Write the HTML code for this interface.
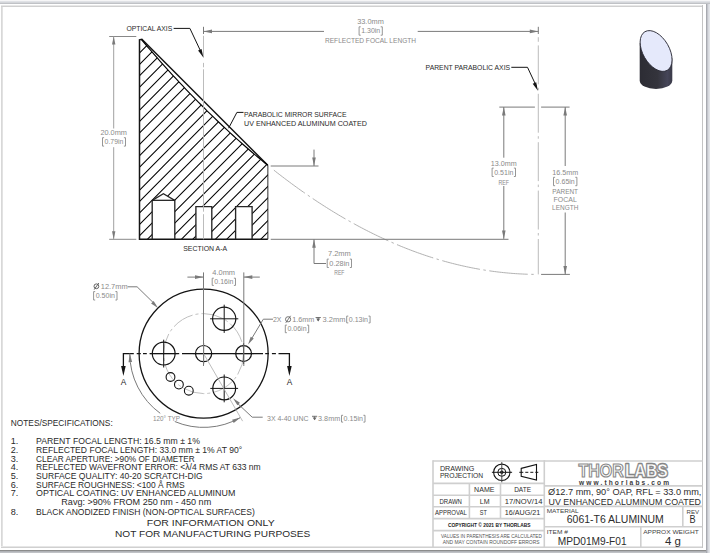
<!DOCTYPE html>
<html><head><meta charset="utf-8"><style>
html,body{margin:0;padding:0;background:#fff;}
svg{display:block;}
text{font-family:"Liberation Sans",sans-serif;}
</style></head><body>
<svg width="710" height="553" viewBox="0 0 710 553">
<rect x="0" y="0" width="710" height="553" fill="#ffffff"/>
<rect x="0" y="0" width="710" height="1" fill="#f6f6f7"/>
<rect x="0" y="1" width="710" height="1" fill="#e0e2e6"/>
<rect x="0" y="2" width="710" height="1" fill="#d4d6da"/>
<rect x="0" y="3" width="710" height="1" fill="#c0c2c6"/>
<rect x="706" y="4" width="1" height="549" fill="#a8aab0"/>
<rect x="707" y="4" width="1" height="549" fill="#c4c6cc"/>
<rect x="708" y="4" width="1" height="549" fill="#d8dadf"/>
<rect x="709" y="4" width="1" height="549" fill="#e2e4e8"/>
<rect x="0" y="550" width="706" height="1" fill="#8c8c8c"/>
<rect x="0" y="551" width="706" height="1" fill="#b0b2b6"/>
<rect x="0" y="552" width="706" height="1" fill="#c0c2c6"/>
<rect x="1" y="5" width="1" height="543" fill="#d8d8d8"/>
<rect x="2" y="5" width="1" height="543" fill="#e2e2e2"/>
<rect x="1" y="5" width="702" height="1" fill="#e8e8e8"/>
<rect x="1" y="6" width="702" height="1" fill="#d0d0d0"/>
<rect x="1" y="546" width="702" height="1" fill="#e6e6e6"/>
<rect x="1" y="547" width="702" height="1" fill="#d0d0d0"/>
<rect x="702" y="5" width="1" height="543" fill="#c4c4c4"/>
<clipPath id="hc"><path d="M139.5,39.8 L141.5,39.64 L144.66,43.37 L147.81,47.06 L150.97,50.72 L154.13,54.35 L157.29,57.95 L160.44,61.53 L163.6,65.07 L166.76,68.58 L169.92,72.07 L173.07,75.52 L176.23,78.94 L179.39,82.34 L182.55,85.7 L185.71,89.04 L188.86,92.34 L192.02,95.62 L195.18,98.86 L198.34,102.08 L201.49,105.26 L204.65,108.42 L207.81,111.55 L210.97,114.64 L214.12,117.71 L217.28,120.75 L220.44,123.76 L223.59,126.73 L226.75,129.68 L229.91,132.6 L233.07,135.49 L236.23,138.35 L239.38,141.18 L242.54,143.98 L245.7,146.75 L248.86,149.49 L252.01,152.2 L255.17,154.88 L258.33,157.53 L261.49,160.15 L264.64,162.74 L267.8,165.3 L267.8,239.3 L139.5,239.3 Z M152.2,239.3 L152.2,200.3 L163.4,193.7 L174.8,200.3 L174.8,239.3 Z M195.9,239.3 L195.9,206.6 L211.8,206.6 L211.8,239.3 Z M235.6,239.3 L235.6,206.6 L252.1,206.6 L252.1,239.3 Z" clip-rule="evenodd"/></clipPath>
<line x1="267.8" y1="165.3" x2="267.8" y2="239.3" stroke="#6a6a6a" stroke-width="1.4" />
<path d="M120,72.66 L290,-98.87 M120,84.09 L290,-87.44 M120,95.52 L290,-76.01 M120,106.95 L290,-64.58 M120,118.38 L290,-53.15 M120,129.81 L290,-41.72 M120,141.24 L290,-30.29 M120,152.67 L290,-18.86 M120,164.1 L290,-7.43 M120,175.53 L290,4 M120,186.96 L290,15.43 M120,198.39 L290,26.86 M120,209.82 L290,38.29 M120,221.25 L290,49.72 M120,232.68 L290,61.15 M120,244.11 L290,72.58 M120,255.54 L290,84.01 M120,266.97 L290,95.44 M120,278.4 L290,106.87 M120,289.83 L290,118.3 M120,301.26 L290,129.73 M120,312.69 L290,141.16 M120,324.12 L290,152.59 M120,335.55 L290,164.02 M120,346.98 L290,175.45 M120,358.41 L290,186.88 M120,369.84 L290,198.31 M120,381.27 L290,209.74 M120,392.7 L290,221.17" stroke="#000" stroke-width="1.05" fill="none" clip-path="url(#hc)"/>
<polyline points="267.8,165.3 141.9,39.3 139.5,39.8 139.5,239.3 267.8,239.3" stroke="#141414" stroke-width="1.5" fill="none" />
<polyline points="141.5,39.64 144.66,43.37 147.81,47.06 150.97,50.72 154.13,54.35 157.29,57.95 160.44,61.53 163.6,65.07 166.76,68.58 169.92,72.07 173.07,75.52 176.23,78.94 179.39,82.34 182.55,85.7 185.71,89.04 188.86,92.34 192.02,95.62 195.18,98.86 198.34,102.08 201.49,105.26 204.65,108.42 207.81,111.55 210.97,114.64 214.12,117.71 217.28,120.75 220.44,123.76 223.59,126.73 226.75,129.68 229.91,132.6 233.07,135.49 236.23,138.35 239.38,141.18 242.54,143.98 245.7,146.75 248.86,149.49 252.01,152.2 255.17,154.88 258.33,157.53 261.49,160.15 264.64,162.74 267.8,165.3" stroke="#000" stroke-width="1.15" fill="none" />
<polyline points="152.2,239.3 152.2,200.3 163.4,193.7 174.8,200.3 174.8,239.3" stroke="#262626" stroke-width="1.35" fill="none" />
<polyline points="195.9,239.3 195.9,206.6 211.8,206.6 211.8,239.3" stroke="#262626" stroke-width="1.35" fill="none" />
<polyline points="235.6,239.3 235.6,206.6 252.1,206.6 252.1,239.3" stroke="#262626" stroke-width="1.35" fill="none" />
<line x1="152.2" y1="200.3" x2="174.8" y2="200.3" stroke="#141414" stroke-width="1.2" />
<path d="M273.9,170.17 L275.65,171.55 L277.4,172.91 L279.15,174.27 L280.91,175.62 L282.66,176.96 L284.41,178.29 L286.16,179.61 L287.91,180.92 L289.66,182.23 L291.41,183.52 L293.16,184.81 L294.92,186.08 L296.67,187.35 L298.42,188.6 L300.17,189.85 L301.92,191.09 L303.67,192.32 L305.42,193.54 L307.18,194.75 L308.93,195.96 L310.68,197.15 L312.43,198.33 L314.18,199.51 L315.93,200.67 L317.68,201.83 L319.43,202.98 L321.19,204.12 L322.94,205.25 L324.69,206.37 L326.44,207.48 L328.19,208.58 L329.94,209.67 L331.69,210.76 L333.45,211.83 L335.2,212.9 L336.95,213.95 L338.7,215 L340.45,216.04 L342.2,217.07 L343.95,218.08 L345.7,219.1 L347.46,220.1 L349.21,221.09 L350.96,222.07 L352.71,223.05 L354.46,224.01 L356.21,224.97 L357.96,225.91 L359.72,226.85 L361.47,227.78 L363.22,228.7 L364.97,229.61 L366.72,230.51 L368.47,231.4 L370.22,232.28 L371.97,233.15 L373.73,234.02 L375.48,234.87 L377.23,235.72 L378.98,236.55 L380.73,237.38 L382.48,238.2 L384.23,239.01 L385.99,239.81 L387.74,240.6 L389.49,241.38 L391.24,242.15 L392.99,242.92 L394.74,243.67 L396.49,244.42 L398.24,245.15 L400,245.88 L401.75,246.6 L403.5,247.31 L405.25,248.01 L407,248.7 L408.75,249.38 L410.5,250.05 L412.26,250.71 L414.01,251.37 L415.76,252.01 L417.51,252.65 L419.26,253.27 L421.01,253.89 L422.76,254.5 L424.51,255.1 L426.27,255.69 L428.02,256.27 L429.77,256.84 L431.52,257.4 L433.27,257.95 L435.02,258.5 L436.77,259.03 L438.53,259.56 L440.28,260.07 L442.03,260.58 L443.78,261.08 L445.53,261.57 L447.28,262.05 L449.03,262.52 L450.78,262.98 L452.54,263.43 L454.29,263.88 L456.04,264.31 L457.79,264.74 L459.54,265.15 L461.29,265.56 L463.04,265.96 L464.8,266.34 L466.55,266.72 L468.3,267.09 L470.05,267.45 L471.8,267.81 L473.55,268.15 L475.3,268.48 L477.05,268.81 L478.81,269.12 L480.56,269.43 L482.31,269.73 L484.06,270.01 L485.81,270.29 L487.56,270.56 L489.31,270.82 L491.07,271.07 L492.82,271.32 L494.57,271.55 L496.32,271.77 L498.07,271.99 L499.82,272.19 L501.57,272.39 L503.32,272.58 L505.08,272.75 L506.83,272.92 L508.58,273.08 L510.33,273.23 L512.08,273.38 L513.83,273.51 L515.58,273.63 L517.34,273.74 L519.09,273.85 L520.84,273.95 L522.59,274.03 L524.34,274.11 L526.09,274.18 L527.84,274.24 L529.59,274.29 L531.35,274.33 L533.1,274.36 L534.85,274.38 L536.6,274.4" stroke="#a8a8a8" stroke-width="0.9" fill="none" stroke-dasharray="38.6 3.5 2.5 3.5"/>
<line x1="203.5" y1="35.8" x2="203.5" y2="57.5" stroke="#b4b4b4" stroke-width="0.9" />
<line x1="203.5" y1="62.9" x2="203.5" y2="67.3" stroke="#b4b4b4" stroke-width="0.9" />
<line x1="203.5" y1="69.3" x2="203.5" y2="211.7" stroke="#b4b4b4" stroke-width="0.9" />
<line x1="203.5" y1="214.2" x2="203.5" y2="239.3" stroke="#b4b4b4" stroke-width="0.9" />
<line x1="538.3" y1="37.2" x2="538.3" y2="41.8" stroke="#b4b4b4" stroke-width="0.9" />
<line x1="538.3" y1="45.4" x2="538.3" y2="274.4" stroke="#b4b4b4" stroke-width="0.9" stroke-dasharray="38.9 3.5 2.5 3.5"/>
<line x1="109.2" y1="36.5" x2="136.3" y2="36.5" stroke="#7a7a7a" stroke-width="0.9" />
<line x1="109.2" y1="239.3" x2="136.3" y2="239.3" stroke="#7a7a7a" stroke-width="0.9" />
<line x1="113.7" y1="36.5" x2="113.7" y2="128.5" stroke="#a0a0a0" stroke-width="1" />
<line x1="113.7" y1="147.2" x2="113.7" y2="239.3" stroke="#a0a0a0" stroke-width="1" />
<polygon points="113.7,36.5 112,44.5 115.4,44.5" fill="#7a7a7a" stroke="none" stroke-width="0" />
<polygon points="113.7,239.3 115.4,231.3 112,231.3" fill="#7a7a7a" stroke="none" stroke-width="0" />
<text x="100.4" y="134.9" font-size="6.9" fill="#8a8a8a" text-anchor="start" font-weight="normal" textLength="26.6" lengthAdjust="spacingAndGlyphs" >20.0mm</text>
<polyline points="104.1,137.7 102.5,137.7 102.5,146.1 104.1,146.1" stroke="#8a8a8a" stroke-width="0.9" fill="none" />
<polyline points="123.9,137.7 125.5,137.7 125.5,146.1 123.9,146.1" stroke="#8a8a8a" stroke-width="0.9" fill="none" />
<text x="104.6" y="144.26" font-size="6.6" fill="#8a8a8a" text-anchor="start" font-weight="normal" textLength="18.8" lengthAdjust="spacingAndGlyphs" >0.79in</text>
<line x1="203.5" y1="26.8" x2="203.5" y2="34" stroke="#7a7a7a" stroke-width="1" />
<line x1="538.3" y1="26.8" x2="538.3" y2="34" stroke="#7a7a7a" stroke-width="1" />
<line x1="203.5" y1="31.4" x2="324" y2="31.4" stroke="#7a7a7a" stroke-width="1" />
<line x1="417.7" y1="31.4" x2="538.3" y2="31.4" stroke="#7a7a7a" stroke-width="1" />
<polygon points="203.5,31.4 212,33.2 212,29.6" fill="#7a7a7a" stroke="none" stroke-width="0" />
<polygon points="538.3,31.4 529.8,29.6 529.8,33.2" fill="#7a7a7a" stroke="none" stroke-width="0" />
<text x="357.2" y="23.8" font-size="6.8" fill="#8a8a8a" text-anchor="start" font-weight="normal" textLength="26.6" lengthAdjust="spacingAndGlyphs" >33.0mm</text>
<polyline points="360.7,26.8 359.1,26.8 359.1,35.2 360.7,35.2" stroke="#8a8a8a" stroke-width="0.9" fill="none" />
<polyline points="380.7,26.8 382.3,26.8 382.3,35.2 380.7,35.2" stroke="#8a8a8a" stroke-width="0.9" fill="none" />
<text x="361.2" y="33.36" font-size="6.6" fill="#8a8a8a" text-anchor="start" font-weight="normal" textLength="19" lengthAdjust="spacingAndGlyphs" >1.30in</text>
<text x="325" y="43.1" font-size="7.1" fill="#8a8a8a" text-anchor="start" font-weight="normal" textLength="91" lengthAdjust="spacingAndGlyphs" >REFLECTED FOCAL LENGTH</text>
<text x="126.4" y="30.8" font-size="7.1" fill="#2a2a2a" text-anchor="start" font-weight="normal" textLength="45.9" lengthAdjust="spacingAndGlyphs" >OPTICAL AXIS</text>
<polyline points="173.6,28.4 189.9,28.4 201.5,53" stroke="#141414" stroke-width="1" fill="none" />
<polygon points="203.4,57.4 201.54,48.89 198.09,50.5" fill="#141414" stroke="none" stroke-width="0" />
<text x="244.1" y="117.1" font-size="7.4" fill="#2a2a2a" text-anchor="start" font-weight="normal" textLength="102.5" lengthAdjust="spacingAndGlyphs" >PARABOLIC MIRROR SURFACE</text>
<text x="244.1" y="126.1" font-size="7.4" fill="#2a2a2a" text-anchor="start" font-weight="normal" textLength="122.8" lengthAdjust="spacingAndGlyphs" >UV ENHANCED ALUMINUM COATED</text>
<polyline points="243.5,112.4 236.9,112.4 228.6,128.2" stroke="#141414" stroke-width="1" fill="none" />
<text x="425.6" y="70" font-size="7.3" fill="#2a2a2a" text-anchor="start" font-weight="normal" textLength="84.5" lengthAdjust="spacingAndGlyphs" >PARENT PARABOLIC AXIS</text>
<polyline points="511.3,67.3 527.5,67.3 536.5,86.5" stroke="#141414" stroke-width="1" fill="none" />
<polygon points="537.9,90.7 536.18,82.16 532.71,83.7" fill="#141414" stroke="none" stroke-width="0" />
<line x1="270.7" y1="166" x2="318.5" y2="166" stroke="#7a7a7a" stroke-width="1" />
<line x1="270.7" y1="239.3" x2="508.5" y2="239.3" stroke="#7a7a7a" stroke-width="1" />
<line x1="314" y1="149.6" x2="314" y2="166" stroke="#7a7a7a" stroke-width="1" />
<polygon points="314,166 315.8,157.5 312.2,157.5" fill="#7a7a7a" stroke="none" stroke-width="0" />
<polyline points="314,239.3 314,263.5 326,263.5" stroke="#7a7a7a" stroke-width="1" fill="none" />
<polygon points="314,239.3 312.2,247.8 315.8,247.8" fill="#7a7a7a" stroke="none" stroke-width="0" />
<text x="328" y="255.6" font-size="6.7" fill="#8a8a8a" text-anchor="start" font-weight="normal" textLength="22.8" lengthAdjust="spacingAndGlyphs" >7.2mm</text>
<polyline points="328.8,259.1 327.2,259.1 327.2,267.5 328.8,267.5" stroke="#8a8a8a" stroke-width="0.9" fill="none" />
<polyline points="349.9,259.1 351.5,259.1 351.5,267.5 349.9,267.5" stroke="#8a8a8a" stroke-width="0.9" fill="none" />
<text x="329.3" y="265.66" font-size="6.6" fill="#8a8a8a" text-anchor="start" font-weight="normal" textLength="20.1" lengthAdjust="spacingAndGlyphs" >0.28in</text>
<text x="339.3" y="274.6" font-size="6.7" fill="#8a8a8a" text-anchor="middle" font-weight="normal" textLength="10.1" lengthAdjust="spacingAndGlyphs" >REF</text>
<line x1="499.3" y1="107.1" x2="534.9" y2="107.1" stroke="#7a7a7a" stroke-width="1" />
<line x1="541.1" y1="107.1" x2="569.6" y2="107.1" stroke="#7a7a7a" stroke-width="1" />
<line x1="503.8" y1="107" x2="503.8" y2="157.7" stroke="#7a7a7a" stroke-width="1" />
<line x1="503.8" y1="186" x2="503.8" y2="238.9" stroke="#7a7a7a" stroke-width="1" />
<polygon points="503.8,107 502,115.5 505.6,115.5" fill="#7a7a7a" stroke="none" stroke-width="0" />
<polygon points="503.8,238.9 505.6,230.4 502,230.4" fill="#7a7a7a" stroke="none" stroke-width="0" />
<text x="503.8" y="165.5" font-size="6.7" fill="#8a8a8a" text-anchor="middle" font-weight="normal" textLength="26" lengthAdjust="spacingAndGlyphs" >13.0mm</text>
<polyline points="493.7,168.1 492.1,168.1 492.1,176.5 493.7,176.5" stroke="#8a8a8a" stroke-width="0.9" fill="none" />
<polyline points="513.9,168.1 515.5,168.1 515.5,176.5 513.9,176.5" stroke="#8a8a8a" stroke-width="0.9" fill="none" />
<text x="494.2" y="174.66" font-size="6.6" fill="#8a8a8a" text-anchor="start" font-weight="normal" textLength="19.2" lengthAdjust="spacingAndGlyphs" >0.51in</text>
<text x="503.8" y="185" font-size="6.7" fill="#8a8a8a" text-anchor="middle" font-weight="normal" textLength="10.5" lengthAdjust="spacingAndGlyphs" >REF</text>
<line x1="541.1" y1="274.4" x2="569.9" y2="274.4" stroke="#7a7a7a" stroke-width="1" />
<line x1="565.2" y1="107" x2="565.2" y2="166" stroke="#7a7a7a" stroke-width="1" />
<line x1="565.2" y1="212.5" x2="565.2" y2="274.4" stroke="#7a7a7a" stroke-width="1" />
<polygon points="565.2,107 563.4,115.5 567,115.5" fill="#7a7a7a" stroke="none" stroke-width="0" />
<polygon points="565.2,274.4 567,265.9 563.4,265.9" fill="#7a7a7a" stroke="none" stroke-width="0" />
<text x="565.2" y="174.6" font-size="6.7" fill="#8a8a8a" text-anchor="middle" font-weight="normal" textLength="26" lengthAdjust="spacingAndGlyphs" >16.5mm</text>
<polyline points="555.1,177.3 553.5,177.3 553.5,185.7 555.1,185.7" stroke="#8a8a8a" stroke-width="0.9" fill="none" />
<polyline points="575.3,177.3 576.9,177.3 576.9,185.7 575.3,185.7" stroke="#8a8a8a" stroke-width="0.9" fill="none" />
<text x="555.6" y="183.86" font-size="6.6" fill="#8a8a8a" text-anchor="start" font-weight="normal" textLength="19.2" lengthAdjust="spacingAndGlyphs" >0.65in</text>
<text x="565.2" y="193.7" font-size="6.7" fill="#8a8a8a" text-anchor="middle" font-weight="normal" textLength="25.7" lengthAdjust="spacingAndGlyphs" >PARENT</text>
<text x="565.2" y="201.7" font-size="6.7" fill="#8a8a8a" text-anchor="middle" font-weight="normal" textLength="23.2" lengthAdjust="spacingAndGlyphs" >FOCAL</text>
<text x="565.2" y="210.4" font-size="6.7" fill="#8a8a8a" text-anchor="middle" font-weight="normal" textLength="26.3" lengthAdjust="spacingAndGlyphs" >LENGTH</text>
<text x="205.2" y="250.7" font-size="6.9" fill="#2a2a2a" text-anchor="middle" font-weight="normal" textLength="44" lengthAdjust="spacingAndGlyphs" >SECTION A-A</text>
<circle cx="203.6" cy="353.6" r="64.5" stroke="#141414" stroke-width="1.3" fill="none" />
<circle cx="203.6" cy="353.6" r="40" stroke="#b8b8b8" stroke-width="0.9" fill="none" stroke-dasharray="22 3 3 3"/>
<circle cx="163.7" cy="353.6" r="11.4" stroke="#141414" stroke-width="1.2" fill="none" />
<line x1="149.8" y1="353.6" x2="177.6" y2="353.6" stroke="#141414" stroke-width="1" />
<line x1="163.7" y1="339.7" x2="163.7" y2="367.5" stroke="#141414" stroke-width="1" />
<circle cx="224.2" cy="318.8" r="11.6" stroke="#141414" stroke-width="1.2" fill="none" />
<line x1="210.1" y1="318.8" x2="238.3" y2="318.8" stroke="#141414" stroke-width="1" />
<line x1="224.2" y1="304.7" x2="224.2" y2="332.9" stroke="#141414" stroke-width="1" />
<circle cx="224.2" cy="388.4" r="11.4" stroke="#141414" stroke-width="1.2" fill="none" />
<line x1="210.3" y1="388.4" x2="238.1" y2="388.4" stroke="#141414" stroke-width="1" />
<line x1="224.2" y1="374.5" x2="224.2" y2="402.3" stroke="#141414" stroke-width="1" />
<circle cx="203.6" cy="353.6" r="8.1" stroke="#141414" stroke-width="1.2" fill="none" />
<line x1="193" y1="353.6" x2="214.2" y2="353.6" stroke="#141414" stroke-width="1" />
<line x1="203.6" y1="343" x2="203.6" y2="364.2" stroke="#141414" stroke-width="1" />
<circle cx="243.6" cy="353.6" r="7.9" stroke="#141414" stroke-width="1.2" fill="none" />
<line x1="233.2" y1="353.6" x2="254" y2="353.6" stroke="#141414" stroke-width="1" />
<line x1="243.6" y1="343.2" x2="243.6" y2="364" stroke="#141414" stroke-width="1" />
<circle cx="170.5" cy="377" r="4.4" stroke="#141414" stroke-width="1.1" fill="none" />
<circle cx="178.9" cy="384.6" r="4.4" stroke="#141414" stroke-width="1.1" fill="none" />
<circle cx="188.8" cy="390.7" r="4.4" stroke="#141414" stroke-width="1.1" fill="none" />
<line x1="136.7" y1="353.6" x2="140.8" y2="353.6" stroke="#141414" stroke-width="1.25" />
<line x1="143" y1="353.6" x2="146.8" y2="353.6" stroke="#141414" stroke-width="1.25" />
<line x1="149.7" y1="353.6" x2="179.2" y2="353.6" stroke="#141414" stroke-width="1.25" />
<line x1="182" y1="353.6" x2="263" y2="353.6" stroke="#141414" stroke-width="1.25" />
<line x1="265.2" y1="353.6" x2="269" y2="353.6" stroke="#141414" stroke-width="1.25" />
<line x1="271.9" y1="353.6" x2="275.9" y2="353.6" stroke="#141414" stroke-width="1.25" />
<polyline points="123.4,368 123.4,353.6 133.8,353.6" stroke="#141414" stroke-width="1.3" fill="none" />
<polyline points="278.5,353.6 289.4,353.6 289.4,368" stroke="#141414" stroke-width="1.3" fill="none" />
<polygon points="123.4,376.1 125.7,366.1 121.1,366.1" fill="#141414" stroke="none" stroke-width="0" />
<polygon points="289.4,376.1 291.7,366.1 287.1,366.1" fill="#141414" stroke="none" stroke-width="0" />
<text x="123.4" y="384.8" font-size="8.3" fill="#222" text-anchor="middle" font-weight="normal"  >A</text>
<text x="289.4" y="384.8" font-size="8.3" fill="#222" text-anchor="middle" font-weight="normal"  >A</text>
<line x1="203.5" y1="272.4" x2="203.5" y2="366" stroke="#7a7a7a" stroke-width="1" />
<line x1="243.8" y1="272.4" x2="243.8" y2="366" stroke="#7a7a7a" stroke-width="1" />
<line x1="187.4" y1="277.1" x2="203.5" y2="277.1" stroke="#7a7a7a" stroke-width="1" />
<line x1="243.8" y1="277.1" x2="259.8" y2="277.1" stroke="#7a7a7a" stroke-width="1" />
<polygon points="203.5,277.1 195,275.3 195,278.9" fill="#7a7a7a" stroke="none" stroke-width="0" />
<polygon points="243.8,277.1 252.3,278.9 252.3,275.3" fill="#7a7a7a" stroke="none" stroke-width="0" />
<text x="212.3" y="274.8" font-size="6.7" fill="#8a8a8a" text-anchor="start" font-weight="normal" textLength="22.8" lengthAdjust="spacingAndGlyphs" >4.0mm</text>
<polyline points="213.8,278.2 212.2,278.2 212.2,285.4 213.8,285.4" stroke="#8a8a8a" stroke-width="0.9" fill="none" />
<polyline points="233.9,278.2 235.5,278.2 235.5,285.4 233.9,285.4" stroke="#8a8a8a" stroke-width="0.9" fill="none" />
<text x="214.3" y="284.16" font-size="6.6" fill="#8a8a8a" text-anchor="start" font-weight="normal" textLength="19.1" lengthAdjust="spacingAndGlyphs" >0.16in</text>
<text x="100.8" y="288.7" font-size="6.7" fill="#8a8a8a" text-anchor="start" font-weight="normal" textLength="26.8" lengthAdjust="spacingAndGlyphs" >12.7mm</text>
<circle cx="96.4" cy="286.3" r="2.4" stroke="#555" stroke-width="0.9" fill="none" />
<line x1="94.2" y1="289.6" x2="98.8" y2="283" stroke="#555" stroke-width="0.9" />
<polyline points="95.2,291.6 93.6,291.6 93.6,300 95.2,300" stroke="#8a8a8a" stroke-width="0.9" fill="none" />
<polyline points="115.4,291.6 117,291.6 117,300 115.4,300" stroke="#8a8a8a" stroke-width="0.9" fill="none" />
<text x="95.7" y="298.16" font-size="6.6" fill="#8a8a8a" text-anchor="start" font-weight="normal" textLength="19.2" lengthAdjust="spacingAndGlyphs" >0.50in</text>
<polyline points="127.6,286.8 137.1,286.8 155.5,304.8" stroke="#7a7a7a" stroke-width="1" fill="none" />
<polygon points="158,307.9 153.65,300.95 151.09,303.48" fill="#7a7a7a" stroke="none" stroke-width="0" />
<text x="273" y="321.7" font-size="6.7" fill="#8a8a8a" text-anchor="start" font-weight="normal" textLength="8.5" lengthAdjust="spacingAndGlyphs" >2X</text>
<circle cx="288.1" cy="319.3" r="2.6" stroke="#666" stroke-width="0.9" fill="none" />
<line x1="285.8" y1="322.8" x2="290.6" y2="315.8" stroke="#666" stroke-width="0.9" />
<text x="292.2" y="321.7" font-size="6.7" fill="#8a8a8a" text-anchor="start" font-weight="normal" textLength="22.2" lengthAdjust="spacingAndGlyphs" >1.6mm</text>
<line x1="315.6" y1="317.5" x2="320.8" y2="317.5" stroke="#666" stroke-width="0.9" />
<line x1="318.2" y1="317.5" x2="318.2" y2="321" stroke="#666" stroke-width="0.9" />
<polygon points="316.2,318.6 320.2,318.6 318.2,321.4" fill="#666" stroke="none" stroke-width="0" />
<text x="322.5" y="321.7" font-size="6.7" fill="#8a8a8a" text-anchor="start" font-weight="normal" textLength="22.9" lengthAdjust="spacingAndGlyphs" >3.2mm</text>
<polyline points="348.3,316.1 346.7,316.1 346.7,322.9 348.3,322.9" stroke="#8a8a8a" stroke-width="0.9" fill="none" />
<polyline points="368.5,316.1 370.1,316.1 370.1,322.9 368.5,322.9" stroke="#8a8a8a" stroke-width="0.9" fill="none" />
<text x="348.8" y="321.86" font-size="6.6" fill="#8a8a8a" text-anchor="start" font-weight="normal" textLength="19.2" lengthAdjust="spacingAndGlyphs" >0.13in</text>
<polyline points="286.9,325.1 285.3,325.1 285.3,332.7 286.9,332.7" stroke="#8a8a8a" stroke-width="0.9" fill="none" />
<polyline points="307.1,325.1 308.7,325.1 308.7,332.7 307.1,332.7" stroke="#8a8a8a" stroke-width="0.9" fill="none" />
<text x="287.4" y="331.26" font-size="6.6" fill="#8a8a8a" text-anchor="start" font-weight="normal" textLength="19.2" lengthAdjust="spacingAndGlyphs" >0.06in</text>
<polyline points="273,319.2 263.3,319.2 250.5,340.5" stroke="#7a7a7a" stroke-width="1" fill="none" />
<polygon points="248.1,344.5 253.76,338.57 250.68,336.72" fill="#7a7a7a" stroke="none" stroke-width="0" />
<path d="M129.8,353.6 A73.8,73.8 0 0 0 160.22,413.31" stroke="#7a7a7a" stroke-width="1" fill="none"/>
<path d="M174.76,421.53 A73.8,73.8 0 0 0 240.5,417.51" stroke="#7a7a7a" stroke-width="1" fill="none"/>
<polygon points="129.8,353.6 128.52,362.19 132.12,361.97" fill="#7a7a7a" stroke="none" stroke-width="0" />
<polygon points="240.5,417.51 232.09,419.69 233.7,422.92" fill="#7a7a7a" stroke="none" stroke-width="0" />
<line x1="204.1" y1="354.47" x2="242.6" y2="421.15" stroke="#b4b4b4" stroke-width="0.9" />
<text x="153" y="421.2" font-size="6.7" fill="#8a8a8a" text-anchor="start" font-weight="normal" textLength="27" lengthAdjust="spacingAndGlyphs" >120° TYP</text>
<polyline points="262.7,417.2 252.2,417.2 235.5,401.5" stroke="#7a7a7a" stroke-width="1" fill="none" />
<polygon points="233,398.3 237.44,405.19 239.96,402.63" fill="#7a7a7a" stroke="none" stroke-width="0" />
<text x="267" y="420.8" font-size="6.7" fill="#8a8a8a" text-anchor="start" font-weight="normal" textLength="41.5" lengthAdjust="spacingAndGlyphs" >3X 4-40 UNC</text>
<line x1="312" y1="416.3" x2="317.2" y2="416.3" stroke="#666" stroke-width="0.9" />
<line x1="314.6" y1="416.3" x2="314.6" y2="419.8" stroke="#666" stroke-width="0.9" />
<polygon points="312.6,417.4 316.6,417.4 314.6,420.2" fill="#666" stroke="none" stroke-width="0" />
<text x="318.1" y="420.8" font-size="6.7" fill="#8a8a8a" text-anchor="start" font-weight="normal" textLength="22.1" lengthAdjust="spacingAndGlyphs" >3.8mm</text>
<polyline points="343.1,415.3 341.5,415.3 341.5,422.1 343.1,422.1" stroke="#8a8a8a" stroke-width="0.9" fill="none" />
<polyline points="363.4,415.3 365,415.3 365,422.1 363.4,422.1" stroke="#8a8a8a" stroke-width="0.9" fill="none" />
<text x="343.6" y="421.06" font-size="6.6" fill="#8a8a8a" text-anchor="start" font-weight="normal" textLength="19.3" lengthAdjust="spacingAndGlyphs" >0.15in</text>
<text x="10.8" y="426.2" font-size="8.6" fill="#2a2a2a" text-anchor="start" font-weight="normal" textLength="101.9" lengthAdjust="spacingAndGlyphs" >NOTES/SPECIFICATIONS:</text>
<text x="10.8" y="444" font-size="9.1" fill="#2a2a2a" text-anchor="start" font-weight="normal"  >1.</text>
<text x="36.1" y="444" font-size="9.1" fill="#2a2a2a" text-anchor="start" font-weight="normal" textLength="163.8" lengthAdjust="spacingAndGlyphs" >PARENT FOCAL LENGTH: 16.5 mm ± 1%</text>
<text x="10.8" y="452.7" font-size="9.1" fill="#2a2a2a" text-anchor="start" font-weight="normal"  >2.</text>
<text x="36.1" y="452.7" font-size="9.1" fill="#2a2a2a" text-anchor="start" font-weight="normal" textLength="206" lengthAdjust="spacingAndGlyphs" >REFLECTED FOCAL LENGTH: 33.0 mm ± 1% AT 90°</text>
<text x="10.8" y="461.7" font-size="9.1" fill="#2a2a2a" text-anchor="start" font-weight="normal"  >3.</text>
<text x="36.1" y="461.7" font-size="9.1" fill="#2a2a2a" text-anchor="start" font-weight="normal" textLength="158.7" lengthAdjust="spacingAndGlyphs" >CLEAR APERTURE: &gt;90% OF DIAMETER</text>
<text x="10.8" y="470.4" font-size="9.1" fill="#2a2a2a" text-anchor="start" font-weight="normal"  >4.</text>
<text x="36.1" y="470.4" font-size="9.1" fill="#2a2a2a" text-anchor="start" font-weight="normal" textLength="224.6" lengthAdjust="spacingAndGlyphs" >REFLECTED WAVEFRONT ERROR: &lt;λ/4 RMS AT 633 nm</text>
<text x="10.8" y="478.5" font-size="9.1" fill="#2a2a2a" text-anchor="start" font-weight="normal"  >5.</text>
<text x="36.1" y="478.5" font-size="9.1" fill="#2a2a2a" text-anchor="start" font-weight="normal" textLength="166.6" lengthAdjust="spacingAndGlyphs" >SURFACE QUALITY: 40-20 SCRATCH-DIG</text>
<text x="10.8" y="487.5" font-size="9.1" fill="#2a2a2a" text-anchor="start" font-weight="normal"  >6.</text>
<text x="36.1" y="487.5" font-size="9.1" fill="#2a2a2a" text-anchor="start" font-weight="normal" textLength="148.5" lengthAdjust="spacingAndGlyphs" >SURFACE ROUGHNESS: &lt;100 Å RMS</text>
<text x="10.8" y="496.3" font-size="9.1" fill="#2a2a2a" text-anchor="start" font-weight="normal"  >7.</text>
<text x="36.1" y="496.3" font-size="9.1" fill="#2a2a2a" text-anchor="start" font-weight="normal" textLength="199.2" lengthAdjust="spacingAndGlyphs" >OPTICAL COATING: UV ENHANCED ALUMINUM</text>
<text x="10.8" y="514.6" font-size="9.1" fill="#2a2a2a" text-anchor="start" font-weight="normal"  >8.</text>
<text x="36.1" y="514.6" font-size="9.1" fill="#2a2a2a" text-anchor="start" font-weight="normal" textLength="218.7" lengthAdjust="spacingAndGlyphs" >BLACK ANODIZED FINISH (NON-OPTICAL SURFACES)</text>
<text x="61.3" y="505.3" font-size="9.1" fill="#2a2a2a" text-anchor="start" font-weight="normal" textLength="149.9" lengthAdjust="spacingAndGlyphs" >Ravg: &gt;90% FROM 250 nm - 450 nm</text>
<text x="146.8" y="525.9" font-size="9.9" fill="#2a2a2a" text-anchor="start" font-weight="normal" textLength="127.8" lengthAdjust="spacingAndGlyphs" >FOR INFORMATION ONLY</text>
<text x="115" y="537.1" font-size="9.9" fill="#2a2a2a" text-anchor="start" font-weight="normal" textLength="195.3" lengthAdjust="spacingAndGlyphs" >NOT FOR MANUFACTURING PURPOSES</text>
<line x1="432.8" y1="461" x2="702.5" y2="461" stroke="#cfcfcf" stroke-width="1.6" />
<line x1="433" y1="460.2" x2="433" y2="547" stroke="#cfcfcf" stroke-width="1.6" />
<line x1="544.3" y1="460.2" x2="544.3" y2="547" stroke="#cfcfcf" stroke-width="1.6" />
<line x1="433" y1="483.4" x2="544.3" y2="483.4" stroke="#cfcfcf" stroke-width="1.6" />
<line x1="433" y1="495.2" x2="544.3" y2="495.2" stroke="#cfcfcf" stroke-width="1.6" />
<line x1="433" y1="506.8" x2="544.3" y2="506.8" stroke="#cfcfcf" stroke-width="1.6" />
<line x1="433" y1="518.6" x2="544.3" y2="518.6" stroke="#cfcfcf" stroke-width="1.6" />
<line x1="433" y1="530.6" x2="544.3" y2="530.6" stroke="#cfcfcf" stroke-width="1.6" />
<line x1="469.4" y1="483.4" x2="469.4" y2="518.6" stroke="#cfcfcf" stroke-width="1.6" />
<line x1="500.5" y1="483.4" x2="500.5" y2="518.6" stroke="#cfcfcf" stroke-width="1.6" />
<line x1="544.3" y1="485.9" x2="702.5" y2="485.9" stroke="#cfcfcf" stroke-width="1.6" />
<line x1="544.3" y1="506.4" x2="702.5" y2="506.4" stroke="#cfcfcf" stroke-width="1.6" />
<line x1="544.3" y1="526.8" x2="702.5" y2="526.8" stroke="#cfcfcf" stroke-width="1.6" />
<line x1="682.8" y1="506.4" x2="682.8" y2="526.8" stroke="#cfcfcf" stroke-width="1.6" />
<line x1="640.8" y1="526.8" x2="640.8" y2="547" stroke="#cfcfcf" stroke-width="1.6" />
<text x="439.9" y="470.9" font-size="6.6" fill="#2c2c2c" text-anchor="start" font-weight="normal" textLength="34.5" lengthAdjust="spacingAndGlyphs" >DRAWING</text>
<text x="439.9" y="477.6" font-size="6.6" fill="#2c2c2c" text-anchor="start" font-weight="normal" textLength="43.2" lengthAdjust="spacingAndGlyphs" >PROJECTION</text>
<circle cx="501.8" cy="472.3" r="8.2" stroke="#141414" stroke-width="1.1" fill="none" />
<circle cx="501.8" cy="472.3" r="4" stroke="#141414" stroke-width="1" fill="none" />
<circle cx="501.8" cy="472.3" r="1.7" stroke="#141414" stroke-width="0" fill="#141414" />
<line x1="491.9" y1="472.3" x2="512.1" y2="472.3" stroke="#141414" stroke-width="1" />
<line x1="501.8" y1="462.1" x2="501.8" y2="482.3" stroke="#444" stroke-width="1" />
<polygon points="521.2,468.4 536.5,464.4 536.5,480 521.2,476.2" fill="none" stroke="#141414" stroke-width="1.1" />
<line x1="519.3" y1="472.3" x2="538.7" y2="472.3" stroke="#141414" stroke-width="1" stroke-dasharray="4 2 3 2 3 2 3"/>
<text x="484.3" y="491.8" font-size="6.4" fill="#2c2c2c" text-anchor="middle" font-weight="normal" textLength="20.4" lengthAdjust="spacingAndGlyphs" >NAME</text>
<text x="522.6" y="491.8" font-size="6.4" fill="#2c2c2c" text-anchor="middle" font-weight="normal" textLength="16.8" lengthAdjust="spacingAndGlyphs" >DATE</text>
<text x="439.5" y="504.1" font-size="6.4" fill="#2c2c2c" text-anchor="start" font-weight="normal" textLength="22.4" lengthAdjust="spacingAndGlyphs" >DRAWN</text>
<text x="479.8" y="504.1" font-size="6.4" fill="#2c2c2c" text-anchor="start" font-weight="normal" textLength="9.8" lengthAdjust="spacingAndGlyphs" >LM</text>
<text x="504.8" y="504.1" font-size="6.4" fill="#2c2c2c" text-anchor="start" font-weight="normal" textLength="37.6" lengthAdjust="spacingAndGlyphs" >17/NOV/14</text>
<text x="434.9" y="515.2" font-size="6.4" fill="#2c2c2c" text-anchor="start" font-weight="normal" textLength="31.9" lengthAdjust="spacingAndGlyphs" >APPROVAL</text>
<text x="479.8" y="515.2" font-size="6.4" fill="#2c2c2c" text-anchor="start" font-weight="normal" textLength="7.1" lengthAdjust="spacingAndGlyphs" >ST</text>
<text x="504.8" y="515.2" font-size="6.4" fill="#2c2c2c" text-anchor="start" font-weight="normal" textLength="35.5" lengthAdjust="spacingAndGlyphs" >16/AUG/21</text>
<text x="448" y="526.8" font-size="5.6" fill="#1a1a1a" text-anchor="start" font-weight="bold" textLength="82.5" lengthAdjust="spacingAndGlyphs" >COPYRIGHT © 2021 BY THORLABS</text>
<text x="441.1" y="537.7" font-size="4.9" fill="#555" text-anchor="start" font-weight="normal" textLength="100.8" lengthAdjust="spacingAndGlyphs" >VALUES IN PARENTHESIS ARE CALCULATED</text>
<text x="442.7" y="543.8" font-size="4.9" fill="#555" text-anchor="start" font-weight="normal" textLength="96.8" lengthAdjust="spacingAndGlyphs" >AND MAY CONTAIN ROUNDOFF ERRORS</text>
<text x="578.6" y="476.9" font-size="18.4" font-weight="bold" textLength="45.2" lengthAdjust="spacingAndGlyphs" fill="#ffffff" stroke="#8a8a8a" stroke-width="1.2">THOR</text>
<text x="625.0" y="476.9" font-size="18.4" font-weight="bold" textLength="42.8" lengthAdjust="spacingAndGlyphs" fill="#ffffff" stroke="#8a8a8a" stroke-width="2.6" paint-order="stroke" stroke-linejoin="round">LABS</text>
<text x="625.0" y="476.9" font-size="18.4" font-weight="bold" textLength="42.8" lengthAdjust="spacingAndGlyphs" fill="none" stroke="#777" stroke-width="0.4">LABS</text>
<text x="579" y="484.6" font-size="6.6" font-weight="bold" textLength="90" lengthAdjust="spacing" fill="#3a3a3a">www.thorlabs.com</text>
<text x="548.1" y="495.4" font-size="9" fill="#2c2c2c" text-anchor="start" font-weight="normal" textLength="153.3" lengthAdjust="spacingAndGlyphs" >Ø12.7 mm, 90° OAP, RFL = 33.0 mm,</text>
<text x="548.6" y="504.5" font-size="9" fill="#2c2c2c" text-anchor="start" font-weight="normal" textLength="152.4" lengthAdjust="spacingAndGlyphs" >UV ENHANCED ALUMINUM COATED</text>
<text x="546.7" y="512.5" font-size="5.6" fill="#444" text-anchor="start" font-weight="normal" textLength="32" lengthAdjust="spacingAndGlyphs" >MATERIAL</text>
<text x="566.8" y="522.8" font-size="11" fill="#2c2c2c" text-anchor="start" font-weight="normal" textLength="97" lengthAdjust="spacingAndGlyphs" >6061-T6 ALUMINUM</text>
<text x="686.6" y="513.7" font-size="5.9" fill="#444" text-anchor="start" font-weight="normal" textLength="12.5" lengthAdjust="spacingAndGlyphs" >REV</text>
<text x="689.6" y="523.2" font-size="10.4" fill="#2c2c2c" text-anchor="start" font-weight="normal" textLength="6.1" lengthAdjust="spacingAndGlyphs" >B</text>
<text x="546.7" y="533.9" font-size="6" fill="#444" text-anchor="start" font-weight="normal" textLength="21.3" lengthAdjust="spacingAndGlyphs" >ITEM #</text>
<text x="557.7" y="545.3" font-size="10.8" fill="#2c2c2c" text-anchor="start" font-weight="normal" textLength="68.9" lengthAdjust="spacingAndGlyphs" >MPD01M9-F01</text>
<text x="643.2" y="533.9" font-size="6" fill="#444" text-anchor="start" font-weight="normal" textLength="55.5" lengthAdjust="spacingAndGlyphs" >APPROX WEIGHT</text>
<text x="664.9" y="545.3" font-size="10.8" fill="#2c2c2c" text-anchor="start" font-weight="normal" textLength="16" lengthAdjust="spacingAndGlyphs" >4 g</text>
<defs><linearGradient id="bodyg" x1="0" x2="1" y1="0" y2="0"><stop offset="0" stop-color="#2c2c34"/><stop offset="0.55" stop-color="#34343c"/><stop offset="0.85" stop-color="#454558"/><stop offset="1" stop-color="#3a3a48"/></linearGradient></defs>
<path d="M639.7,43 L639.7,80.6 A16.3,8.4 0 0 0 672.3,80.6 L672.3,58.2 Z" fill="url(#bodyg)"/>
<ellipse cx="656.1" cy="51.0" rx="22.3" ry="13.2" transform="rotate(60 656.1 51.0)" fill="#e5e9fb" stroke="#2a2a36" stroke-width="0.85"/>
</svg>
</body></html>
